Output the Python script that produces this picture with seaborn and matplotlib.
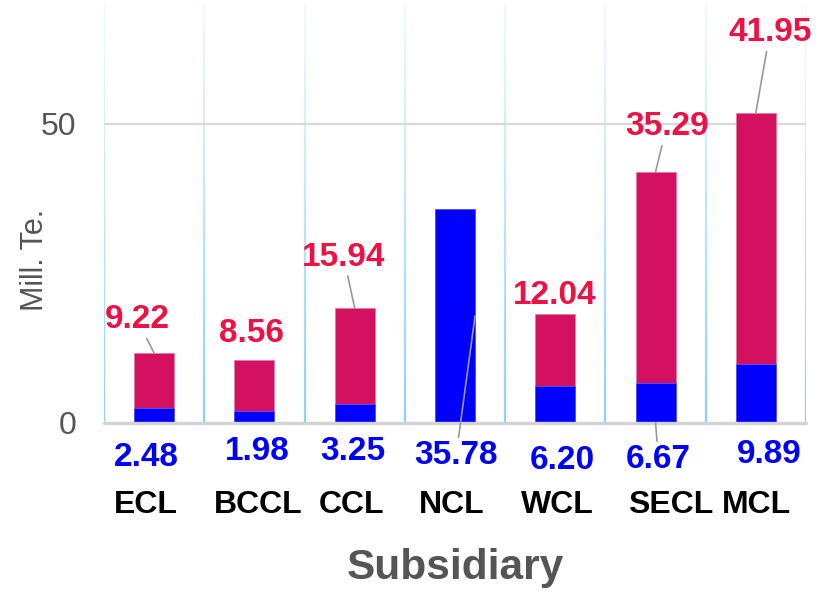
import numpy as np
import pandas as pd
import matplotlib
matplotlib.use("Agg")
import matplotlib.pyplot as plt
import matplotlib.transforms as mtrans
from matplotlib.collections import LineCollection
from matplotlib.colors import LinearSegmentedColormap
import seaborn as sns

subsidiaries = ["ECL", "BCCL", "CCL", "NCL", "WCL", "SECL", "MCL"]
blue_vals = [2.48, 1.98, 3.25, 35.78, 6.20, 6.67, 9.89]
red_vals = [9.22, 8.56, 15.94, 0.0, 12.04, 35.29, 41.95]

# label offsets in pixels (dx, dy) and whether a leader line is drawn
red_offsets = [(-17, 33), (-3, 26), (-11, 51), None, (-1, 18), (11, 45), (14, 80)]
red_leader = [True, False, True, False, False, True, True]
blue_offsets = [(-8, -35), (3, -29), (-2, -29), (-19, -140), (7, -38), (3, -37), (13, -32)]
blue_leader = [False, False, False, True, False, True, False]
tick_shift = [-8, 4, -3, -3, 2, 15, 1]

BLUE = "#0000ff"
CRIMSON = "#d31160"
RED_TXT = "#ee1144"
GRAY = "#555555"

sns.set_style("white")
plt.rcParams["font.family"] = ["Liberation Sans", "DejaVu Sans"]

df = pd.DataFrame({"Subsidiary": subsidiaries, "blue": blue_vals, "red": red_vals})
df["total"] = df["blue"] + df["red"]

fig = plt.figure(figsize=(8.38, 5.91), dpi=100)
ax = fig.add_axes([0.1241, 0.2843, 0.8377, 0.7089])

sns.barplot(data=df, x="Subsidiary", y="total", color=CRIMSON, width=0.4,
            saturation=1, edgecolor="#e07aa0", linewidth=0.6, ax=ax, zorder=3)
sns.barplot(data=df, x="Subsidiary", y="blue", color=BLUE, width=0.4,
            saturation=1, edgecolor="#5555ff", linewidth=0.6, ax=ax, zorder=4)

n = len(subsidiaries)
ax.set_xlim(-0.5, n - 0.5)
ax.set_ylim(0, 70)

# gradient vertical separators
cmap = LinearSegmentedColormap.from_list("sep", ["#8fd0fb", "#f0f9ff"])
ys = np.linspace(0, 70, 60)
for xb in np.arange(-0.5, n, 1.0):
    pts = np.array([[xb, y] for y in ys])
    segs = np.stack([pts[:-1], pts[1:]], axis=1)
    lc = LineCollection(segs, colors=cmap(np.linspace(0, 1, len(segs))), linewidths=1.6, zorder=1)
    ax.add_collection(lc)

ax.axhline(50, color="#d9d9d9", lw=1.6, zorder=2)
ax.axhline(0, color="#d3d3d3", lw=2.4, zorder=5, clip_on=False)

for s in ax.spines.values():
    s.set_visible(False)

ax.set_yticks([0, 50])
ax.set_yticklabels(["0", "50"], fontsize=23, color=GRAY)
ax.tick_params(axis="y", length=0, pad=20)
ax.tick_params(axis="x", length=0, pad=48)
ax.set_xticks(range(n))
ax.set_xticklabels(subsidiaries, fontsize=23, fontweight="bold", color="black")
for lab, sh in zip(ax.get_xticklabels(), tick_shift):
    lab.set_transform(lab.get_transform() + mtrans.ScaledTranslation(sh / 100, 0, fig.dpi_scale_trans))

ax.set_ylabel("Mill. Te.", fontsize=22, color=GRAY)
ax.yaxis.set_label_coords(-0.077, 0.39)
ax.set_xlabel("Subsidiary", fontsize=30.5, fontweight="bold", color=GRAY, va="top")
ax.xaxis.set_label_coords(0.5, -0.298)

line_kw = dict(arrowstyle="-", color="#999999", lw=1.2, shrinkA=0, shrinkB=0)

for i in range(n):
    if red_offsets[i] is not None:
        dx, dy = red_offsets[i]
        ax.annotate(f"{red_vals[i]:.2f}", xy=(i, df["total"][i]), xytext=(dx, dy),
                    textcoords="offset pixels", ha="center", va="center",
                    fontsize=24, fontweight="bold", color=RED_TXT, zorder=6,
                    arrowprops=line_kw if red_leader[i] else None)
    dx, dy = blue_offsets[i]
    if i == 3:
        anchor = (i + 0.2, blue_vals[i] / 2)
    else:
        anchor = (i, 0)
    ax.annotate(f"{blue_vals[i]:.2f}", xy=anchor, xytext=(dx, dy),
                textcoords="offset pixels", ha="center", va="center",
                fontsize=24, fontweight="bold", color=BLUE, zorder=6,
                annotation_clip=False,
                arrowprops=line_kw if blue_leader[i] else None)

fig.savefig("out.png", dpi=100)
